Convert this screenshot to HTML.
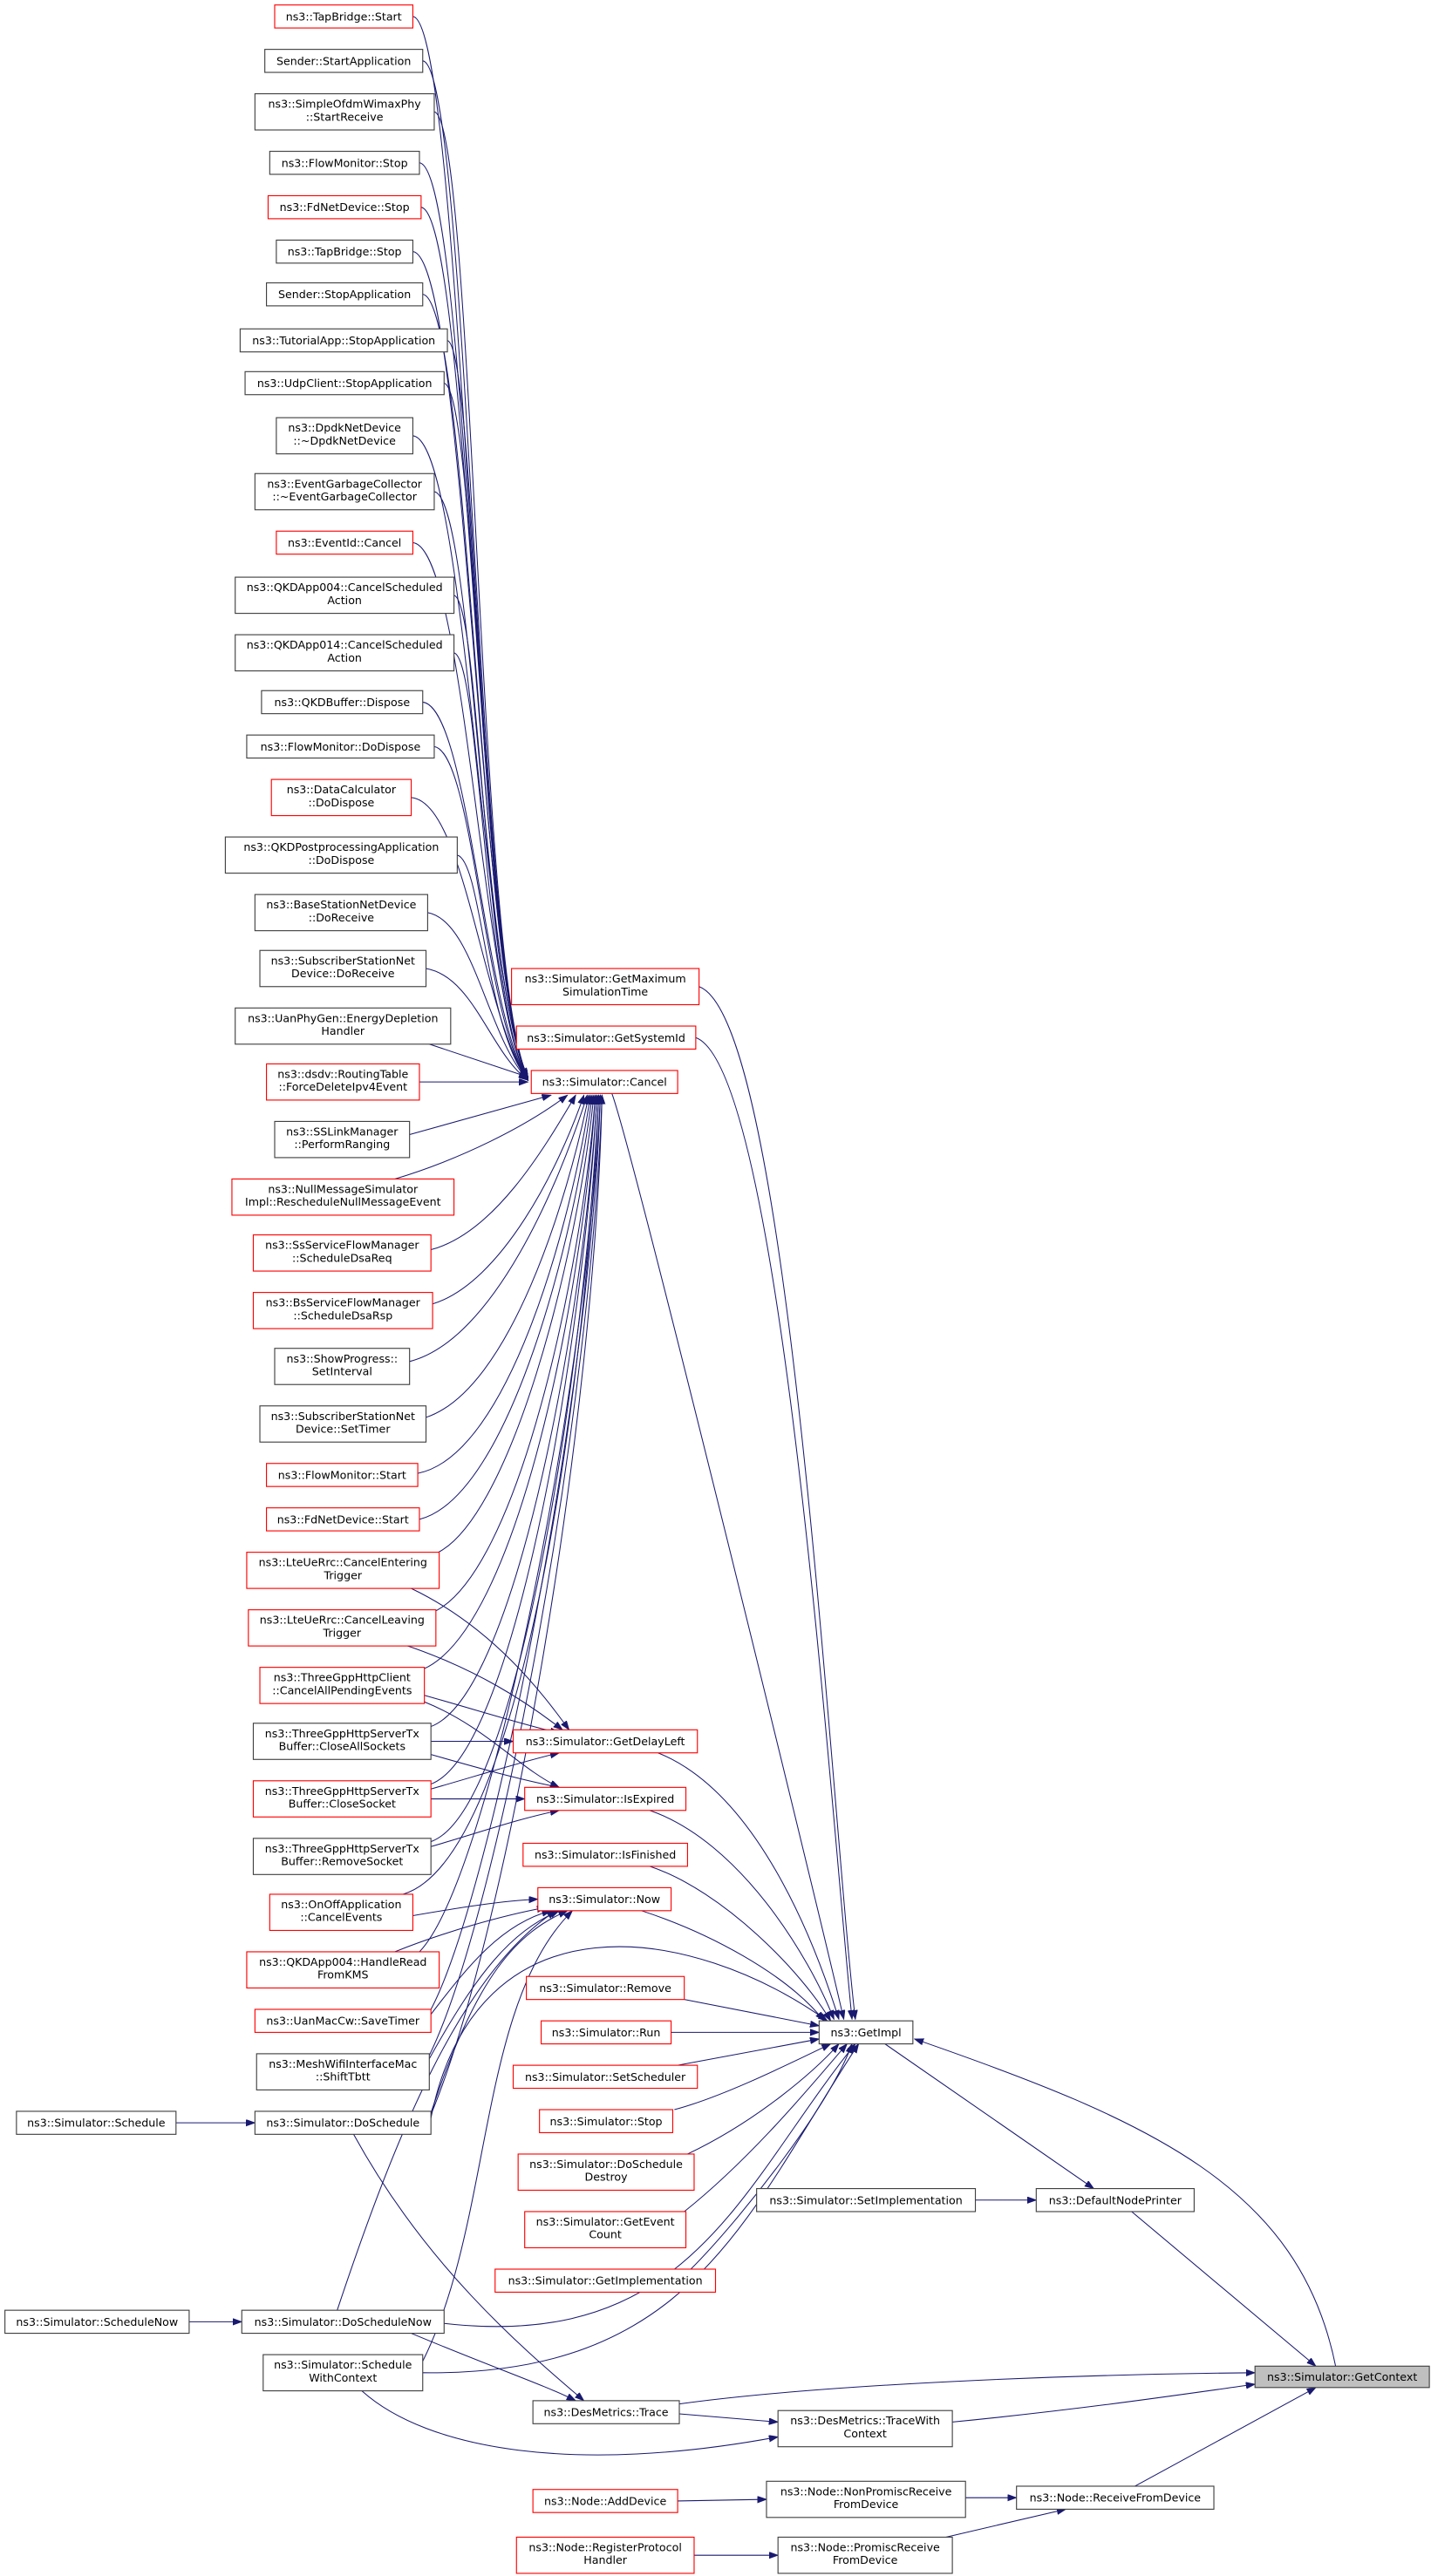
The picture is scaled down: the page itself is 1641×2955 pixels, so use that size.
<!DOCTYPE html>
<html><head><meta charset="utf-8"><style>
html,body{margin:0;padding:0;background:#fff;}
svg{display:block;}
text{font-family:"DejaVu Sans","Liberation Sans",sans-serif;font-size:6.7px;fill:#000;text-anchor:middle;}
.b{fill:#fff;stroke:#404040;stroke-width:0.6;}
.r{fill:#fff;stroke:#ff0000;stroke-width:0.6;}
.g{fill:#bfbfbf;stroke:#404040;stroke-width:0.6;}
path{fill:none;stroke:#191970;stroke-width:0.55;}
</style></head><body>
<svg width="1641" height="2955" viewBox="0 0 870 1566.6" xmlns="http://www.w3.org/2000/svg">
<defs><marker id="a" markerUnits="userSpaceOnUse" markerWidth="6" markerHeight="5" refX="5.5" refY="2" orient="auto"><polygon points="0,0 5.5,2 0,4" fill="#191970" stroke="#191970" stroke-width="0.4"/></marker></defs>
<g marker-end="url(#a)">
<path d="M251,10 C281,13 290,600 321,655"/>
<path d="M257,37 C285,40 290,600 321,655"/>
<path d="M264,68 C288,72 291,600 321,655"/>
<path d="M255,99 C285,102 291,600 321,655"/>
<path d="M256,126 C285,130 292,600 321,656"/>
<path d="M251,153 C283,156 292,600 321,656"/>
<path d="M257,179 C285,182 292,600 321,656"/>
<path d="M272,207 C290,212 292,600 321,656"/>
<path d="M270,233 C290,238 293,600 321,656"/>
<path d="M251,265 C283,268 293,600 321,656"/>
<path d="M264,299 C288,303 293,600 321,656"/>
<path d="M251,330 C283,333 293,610 321,656"/>
<path d="M276,362 C292,366 294,610 321,657"/>
<path d="M276,397 C292,401 294,610 321,657"/>
<path d="M257,427 C285,430 294,615 321,657"/>
<path d="M264,454 C288,458 294,620 321,657"/>
<path d="M250,485 C283,488 294,620 321,657"/>
<path d="M278,520 C293,524 295,625 321,657"/>
<path d="M260,555 C288,560 296,630 321,657"/>
<path d="M259,589 C288,594 298,640 321,657"/>
<path d="M258,634 L321,655"/>
<path d="M255,658 L321,658"/>
<path d="M249,690 L335,666"/>
<path d="M240,717 C280,705 320,685 345,666"/>
<path d="M262,760 C300,750 330,700 350,666"/>
<path d="M263,793 C305,780 340,710 355,666"/>
<path d="M249,828 C300,815 340,720 357,666"/>
<path d="M259,862 C310,845 345,730 358,666"/>
<path d="M254,896 C310,885 348,740 359,666"/>
<path d="M255,924 C310,910 350,750 360,666"/>
<path d="M262,946 C310,930 352,760 361,666"/>
<path d="M262,981 C315,960 354,770 362,666"/>
<path d="M255,1016 C315,995 355,780 362,666"/>
<path d="M262,1050 C315,1030 356,790 363,666"/>
<path d="M262,1085 C315,1065 356,800 363,666"/>
<path d="M262,1120 C318,1100 357,810 364,666"/>
<path d="M245,1152 C320,1130 358,820 364,666"/>
<path d="M255,1187 C300,1140 358,830 365,666"/>
<path d="M262,1222 C300,1150 360,840 365,666"/>
<path d="M261,1250 C305,1160 360,850 366,666"/>
<path d="M262,1286 C310,1170 362,860 366,666"/>
<!-- to GetDelayLeft -->
<path d="M250,966 C300,990 330,1030 346,1052"/>
<path d="M245,1000 C290,1015 320,1035 342,1052"/>
<path d="M258,1031 C290,1040 315,1048 340,1054"/>
<path d="M262,1059 L312,1059"/>
<path d="M262,1088 C290,1080 315,1072 340,1066"/>
<!-- to IsExpired -->
<path d="M258,1035 C295,1050 315,1075 340,1087"/>
<path d="M262,1067 C290,1075 315,1082 340,1087"/>
<path d="M262,1094 L319,1094"/>
<path d="M262,1123 C290,1115 315,1106 340,1101"/>
<!-- to Now -->
<path d="M251,1165 C280,1160 305,1156 327,1155"/>
<path d="M240,1187 C270,1175 305,1165 332,1160"/>
<path d="M262,1225 C285,1195 305,1170 335,1162"/>
<path d="M261,1252 C290,1200 310,1175 340,1162"/>
<path d="M262,1285 C290,1200 315,1175 345,1162"/>
<path d="M205,1405 C240,1300 280,1200 338,1162"/>
<path d="M257,1436 C300,1350 290,1220 348,1162"/>
<!-- to GetImpl -->
<path d="M425,600 C480,620 505,1100 520,1228"/>
<path d="M423,631 C475,650 505,1100 518,1228"/>
<path d="M372,665 C385,700 495,1150 513,1228"/>
<path d="M400,1066 C460,1090 495,1180 510,1228"/>
<path d="M395,1101 C450,1120 492,1190 507,1228"/>
<path d="M395,1135 C440,1150 488,1200 505,1229"/>
<path d="M390,1162 C430,1175 478,1200 501,1229"/>
<path d="M262,1288 C290,1150 420,1170 503,1229"/>
<path d="M416,1216 L498,1232"/>
<path d="M408,1236 L498,1236"/>
<path d="M412,1256 L498,1240"/>
<path d="M410,1283 C440,1275 480,1255 505,1243"/>
<path d="M418,1310 C460,1290 495,1260 510,1243"/>
<path d="M416,1345 C460,1310 500,1260 515,1243"/>
<path d="M420,1380 C450,1350 505,1280 518,1243"/>
<path d="M270,1413 C420,1430 450,1330 520,1243"/>
<path d="M257,1443 C420,1445 452,1350 522,1243"/>
<path d="M812,1439 C790,1330 700,1290 556,1240"/>
<path d="M538,1243 L665,1331"/>
<path d="M593,1338 L630,1338"/>
<path d="M688,1345 L800,1439"/>
<!-- bottom -->
<path d="M107,1291 L155,1291"/>
<path d="M115,1412 L147,1412"/>
<path d="M215,1298 C260,1380 320,1430 355,1460"/>
<path d="M250,1419 C300,1440 330,1450 350,1460"/>
<path d="M220,1454 C260,1490 350,1505 473,1482"/>
<path d="M413,1468 L473,1473"/>
<path d="M413,1462 C500,1450 650,1444 763,1443"/>
<path d="M579,1473 C660,1465 720,1456 763,1450"/>
<path d="M412,1521 L466,1520"/>
<path d="M587,1519 L618,1519"/>
<path d="M422,1554 L473,1554"/>
<path d="M575,1543 L648,1526"/>
<path d="M690,1512 L800,1452"/>
</g>
<!-- left nodes -->
<rect class="r" x="167" y="3" width="84" height="14"/><text x="209" y="12.4">ns3::TapBridge::Start</text>
<rect class="b" x="161" y="30" width="96" height="14"/><text x="209" y="39.4">Sender::StartApplication</text>
<rect class="b" x="155" y="57" width="109" height="22"/><text x="209.5" y="65.5">ns3::SimpleOfdmWimaxPhy</text><text x="209.5" y="73.3">::StartReceive</text>
<rect class="b" x="164" y="92" width="91" height="14"/><text x="209.5" y="101.4">ns3::FlowMonitor::Stop</text>
<rect class="r" x="163" y="119" width="93" height="14"/><text x="209.5" y="128.4">ns3::FdNetDevice::Stop</text>
<rect class="b" x="168" y="146" width="83" height="14"/><text x="209.5" y="155.4">ns3::TapBridge::Stop</text>
<rect class="b" x="162" y="172" width="95" height="14"/><text x="209.5" y="181.4">Sender::StopApplication</text>
<rect class="b" x="146" y="200" width="126" height="14"/><text x="209" y="209.4">ns3::TutorialApp::StopApplication</text>
<rect class="b" x="149" y="226" width="121" height="14"/><text x="209.5" y="235.4">ns3::UdpClient::StopApplication</text>
<rect class="b" x="168" y="254" width="83" height="22"/><text x="209.5" y="262.5">ns3::DpdkNetDevice</text><text x="209.5" y="270.3">::~DpdkNetDevice</text>
<rect class="b" x="155" y="288" width="109" height="22"/><text x="209.5" y="296.5">ns3::EventGarbageCollector</text><text x="209.5" y="304.3">::~EventGarbageCollector</text>
<rect class="r" x="168" y="323" width="83" height="14"/><text x="209.5" y="332.4">ns3::EventId::Cancel</text>
<rect class="b" x="143" y="351" width="133" height="22"/><text x="209.5" y="359.5">ns3::QKDApp004::CancelScheduled</text><text x="209.5" y="367.3">Action</text>
<rect class="b" x="143" y="386" width="133" height="22"/><text x="209.5" y="394.5">ns3::QKDApp014::CancelScheduled</text><text x="209.5" y="402.3">Action</text>
<rect class="b" x="159" y="420" width="98" height="14"/><text x="208" y="429.4">ns3::QKDBuffer::Dispose</text>
<rect class="b" x="150" y="447" width="114" height="14"/><text x="207" y="456.4">ns3::FlowMonitor::DoDispose</text>
<rect class="r" x="165" y="474" width="85" height="22"/><text x="207.5" y="482.5">ns3::DataCalculator</text><text x="207.5" y="490.3">::DoDispose</text>
<rect class="b" x="137" y="509" width="141" height="22"/><text x="207.5" y="517.5">ns3::QKDPostprocessingApplication</text><text x="207.5" y="525.3">::DoDispose</text>
<rect class="b" x="155" y="544" width="105" height="22"/><text x="207.5" y="552.5">ns3::BaseStationNetDevice</text><text x="207.5" y="560.3">::DoReceive</text>
<rect class="b" x="158" y="578" width="101" height="22"/><text x="208.5" y="586.5">ns3::SubscriberStationNet</text><text x="208.5" y="594.3">Device::DoReceive</text>
<rect class="b" x="143" y="613" width="131" height="22"/><text x="208.5" y="621.5">ns3::UanPhyGen::EnergyDepletion</text><text x="208.5" y="629.3">Handler</text>
<rect class="r" x="162" y="647" width="93" height="22"/><text x="208.5" y="655.5">ns3::dsdv::RoutingTable</text><text x="208.5" y="663.3">::ForceDeleteIpv4Event</text>
<rect class="b" x="167" y="682" width="82" height="22"/><text x="208" y="690.5">ns3::SSLinkManager</text><text x="208" y="698.3">::PerformRanging</text>
<rect class="r" x="141" y="717" width="135" height="22"/><text x="208.5" y="725.5">ns3::NullMessageSimulator</text><text x="208.5" y="733.3">Impl::RescheduleNullMessageEvent</text>
<rect class="r" x="154" y="751" width="108" height="22"/><text x="208" y="759.5">ns3::SsServiceFlowManager</text><text x="208" y="767.3">::ScheduleDsaReq</text>
<rect class="r" x="154" y="786" width="109" height="22"/><text x="208.5" y="794.5">ns3::BsServiceFlowManager</text><text x="208.5" y="802.3">::ScheduleDsaRsp</text>
<rect class="b" x="167" y="820" width="82" height="22"/><text x="208" y="828.5">ns3::ShowProgress::</text><text x="208" y="836.3">SetInterval</text>
<rect class="b" x="158" y="855" width="101" height="22"/><text x="208.5" y="863.5">ns3::SubscriberStationNet</text><text x="208.5" y="871.3">Device::SetTimer</text>
<rect class="r" x="162" y="890" width="92" height="14"/><text x="208" y="899.4">ns3::FlowMonitor::Start</text>
<rect class="r" x="162" y="917" width="93" height="14"/><text x="208.5" y="926.4">ns3::FdNetDevice::Start</text>
<rect class="r" x="150" y="944" width="117" height="22"/><text x="208.5" y="952.5">ns3::LteUeRrc::CancelEntering</text><text x="208.5" y="960.3">Trigger</text>
<rect class="r" x="151" y="979" width="114" height="22"/><text x="208" y="987.5">ns3::LteUeRrc::CancelLeaving</text><text x="208" y="995.3">Trigger</text>
<rect class="r" x="158" y="1014" width="100" height="22"/><text x="208" y="1022.5">ns3::ThreeGppHttpClient</text><text x="208" y="1030.3">::CancelAllPendingEvents</text>
<rect class="b" x="154" y="1048" width="108" height="22"/><text x="208" y="1056.5">ns3::ThreeGppHttpServerTx</text><text x="208" y="1064.3">Buffer::CloseAllSockets</text>
<rect class="r" x="154" y="1083" width="108" height="22"/><text x="208" y="1091.5">ns3::ThreeGppHttpServerTx</text><text x="208" y="1099.3">Buffer::CloseSocket</text>
<rect class="b" x="154" y="1118" width="108" height="22"/><text x="208" y="1126.5">ns3::ThreeGppHttpServerTx</text><text x="208" y="1134.3">Buffer::RemoveSocket</text>
<rect class="r" x="164" y="1152" width="87" height="22"/><text x="207.5" y="1160.5">ns3::OnOffApplication</text><text x="207.5" y="1168.3">::CancelEvents</text>
<rect class="r" x="150" y="1187" width="117" height="22"/><text x="208.5" y="1195.5">ns3::QKDApp004::HandleRead</text><text x="208.5" y="1203.3">FromKMS</text>
<rect class="r" x="155" y="1222" width="107" height="14"/><text x="208.5" y="1231.4">ns3::UanMacCw::SaveTimer</text>
<rect class="b" x="156" y="1249" width="105" height="22"/><text x="208.5" y="1257.5">ns3::MeshWifiInterfaceMac</text><text x="208.5" y="1265.3">::ShiftTbtt</text>
<rect class="b" x="155" y="1284" width="107" height="14"/><text x="208.5" y="1293.4">ns3::Simulator::DoSchedule</text>
<rect class="b" x="10" y="1284" width="97" height="14"/><text x="58.5" y="1293.4">ns3::Simulator::Schedule</text>
<rect class="b" x="147" y="1405" width="123" height="14"/><text x="208.5" y="1414.4">ns3::Simulator::DoScheduleNow</text>
<rect class="b" x="3" y="1405" width="112" height="14"/><text x="59" y="1414.4">ns3::Simulator::ScheduleNow</text>
<rect class="b" x="160" y="1432" width="97" height="22"/><text x="208.5" y="1440.5">ns3::Simulator::Schedule</text><text x="208.5" y="1448.3">WithContext</text>
<!-- middle -->
<rect class="r" x="311" y="589" width="114" height="22"/><text x="368" y="597.5">ns3::Simulator::GetMaximum</text><text x="368" y="605.3">SimulationTime</text>
<rect class="r" x="314" y="624" width="109" height="14"/><text x="368.5" y="633.4">ns3::Simulator::GetSystemId</text>
<rect class="r" x="323" y="651" width="89" height="14"/><text x="367.5" y="660.4">ns3::Simulator::Cancel</text>
<rect class="r" x="312" y="1052" width="112" height="14"/><text x="368" y="1061.4">ns3::Simulator::GetDelayLeft</text>
<rect class="r" x="319" y="1087" width="98" height="14"/><text x="368" y="1096.4">ns3::Simulator::IsExpired</text>
<rect class="r" x="318" y="1121" width="100" height="14"/><text x="368" y="1130.4">ns3::Simulator::IsFinished</text>
<rect class="r" x="327" y="1148" width="81" height="14"/><text x="367.5" y="1157.4">ns3::Simulator::Now</text>
<rect class="r" x="320" y="1202" width="96" height="14"/><text x="368" y="1211.4">ns3::Simulator::Remove</text>
<rect class="r" x="329" y="1229" width="79" height="14"/><text x="368.5" y="1238.4">ns3::Simulator::Run</text>
<rect class="r" x="312" y="1256" width="112" height="14"/><text x="368" y="1265.4">ns3::Simulator::SetScheduler</text>
<rect class="r" x="328" y="1283" width="81" height="14"/><text x="368.5" y="1292.4">ns3::Simulator::Stop</text>
<rect class="r" x="315" y="1310" width="107" height="22"/><text x="368.5" y="1318.5">ns3::Simulator::DoSchedule</text><text x="368.5" y="1326.3">Destroy</text>
<rect class="r" x="319" y="1345" width="98" height="22"/><text x="368" y="1353.5">ns3::Simulator::GetEvent</text><text x="368" y="1361.3">Count</text>
<rect class="r" x="301" y="1380" width="134" height="14"/><text x="368" y="1389.4">ns3::Simulator::GetImplementation</text>
<rect class="b" x="498" y="1229" width="57" height="14"/><text x="526.5" y="1238.4">ns3::GetImpl</text>
<rect class="b" x="460" y="1331" width="133" height="14"/><text x="526.5" y="1340.4">ns3::Simulator::SetImplementation</text>
<rect class="b" x="630" y="1331" width="96" height="14"/><text x="678" y="1340.4">ns3::DefaultNodePrinter</text>
<rect class="g" x="763" y="1439" width="106" height="13"/><text x="816" y="1447.9">ns3::Simulator::GetContext</text>
<rect class="b" x="324" y="1460" width="89" height="14"/><text x="368.5" y="1469.4">ns3::DesMetrics::Trace</text>
<rect class="b" x="473" y="1466" width="106" height="22"/><text x="526" y="1474.5">ns3::DesMetrics::TraceWith</text><text x="526" y="1482.3">Context</text>
<rect class="r" x="324" y="1514" width="88" height="14"/><text x="368" y="1523.4">ns3::Node::AddDevice</text>
<rect class="b" x="466" y="1509" width="121" height="22"/><text x="526.5" y="1517.5">ns3::Node::NonPromiscReceive</text><text x="526.5" y="1525.3">FromDevice</text>
<rect class="b" x="618" y="1512" width="120" height="14"/><text x="678" y="1521.4">ns3::Node::ReceiveFromDevice</text>
<rect class="r" x="314" y="1543" width="108" height="22"/><text x="368" y="1551.5">ns3::Node::RegisterProtocol</text><text x="368" y="1559.3">Handler</text>
<rect class="b" x="473" y="1543" width="106" height="22"/><text x="526" y="1551.5">ns3::Node::PromiscReceive</text><text x="526" y="1559.3">FromDevice</text>
</svg>
</body></html>
